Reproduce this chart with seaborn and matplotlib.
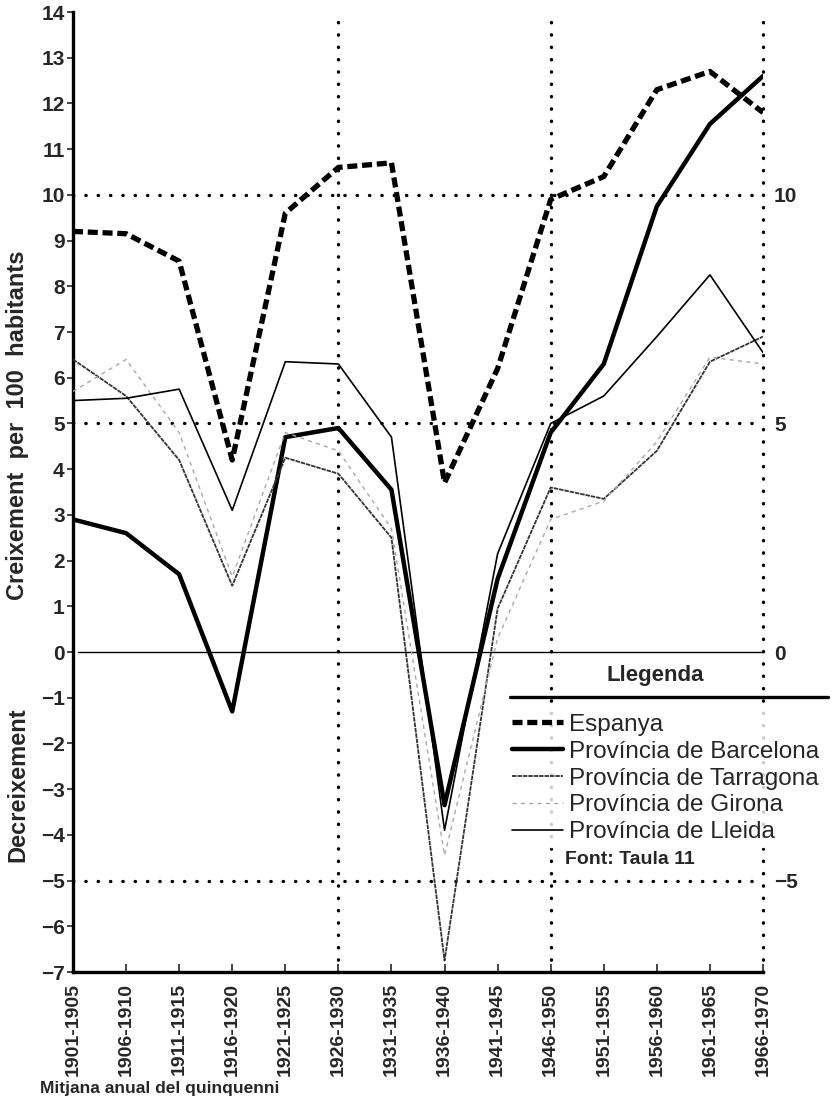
import pandas as pd
import matplotlib.pyplot as plt
import seaborn as sns
from matplotlib.lines import Line2D

# Periods (x axis)
periods = ["1901-1905", "1906-1910", "1911-1915", "1916-1920", "1921-1925",
           "1926-1930", "1931-1935", "1936-1940", "1941-1945", "1946-1950",
           "1951-1955", "1956-1960", "1961-1965", "1966-1970"]

# Growth per 100 inhabitants
espanya = [9.2, 9.15, 8.55, 4.2, 9.6, 10.6, 10.7, 3.7, 6.2, 9.9, 10.4, 12.3, 12.7, 11.8]
barcelona = [2.9, 2.6, 1.7, -1.3, 4.7, 4.9, 3.55, -3.35, 1.6, 4.8, 6.3, 9.75, 11.55, 12.6]
tarragona = [6.4, 5.6, 4.2, 1.45, 4.25, 3.9, 2.5, -6.75, 0.95, 3.6, 3.35, 4.4, 6.35, 6.9]
girona = [5.7, 6.4, 4.8, 1.65, 4.8, 4.4, 2.7, -4.45, 0.3, 2.9, 3.3, 4.6, 6.45, 6.3]
lleida = [5.5, 5.55, 5.75, 3.1, 6.35, 6.3, 4.7, -3.9, 2.15, 5.0, 5.6, 6.9, 8.25, 6.55]

series = {
    "Espanya": espanya,
    "Província de Barcelona": barcelona,
    "Província de Tarragona": tarragona,
    "Província de Girona": girona,
    "Província de Lleida": lleida,
}

rows = []
for name, vals in series.items():
    for i, v in enumerate(vals):
        rows.append({"serie": name, "pos": i, "valor": v})
df = pd.DataFrame(rows)

styles = {
    "Espanya": dict(color="black", lw=3.8, dashes=(1.9, 0.9)),
    "Província de Barcelona": dict(color="black", lw=3.2, dashes=()),
    "Província de Tarragona": dict(color="#333333", lw=1.3, dashes=(2.5, 0.5)),
    "Província de Girona": dict(color="#a8a8a8", lw=1.0, dashes=(3, 3)),
    "Província de Lleida": dict(color="black", lw=1.2, dashes=()),
}

sns.set_theme(style="white")
plt.rcParams["font.family"] = ["Liberation Sans", "DejaVu Sans"]

fig = plt.figure(figsize=(8.35, 11.01), dpi=100)
ax = fig.add_axes([73 / 835, 1 - 972 / 1101, 690 / 835, 960 / 1101])

# dotted reference lines
dot = dict(color="black", lw=2.4, linestyle=(0, (0.1, 3.6)), dash_capstyle="round",
           zorder=1, clip_on=False)
for yv in [10, 5, -5]:
    ax.plot([0, 13], [yv, yv], **dot)
for xv in [5, 9, 13]:
    ax.plot([xv, xv], [-7, 13.8], **dot)
ax.plot([0.1, 13], [0, 0], color="black", lw=1.0, zorder=1)

handles = []
for name in series:
    st = styles[name]
    sub = df[df["serie"] == name]
    sns.lineplot(data=sub, x="pos", y="valor", ax=ax, color=st["color"],
                 linewidth=st["lw"], zorder=3, legend=False)
    line = ax.get_lines()[-1]
    if st["dashes"]:
        line.set_dashes(st["dashes"])
    handles.append(Line2D([0], [0], color=st["color"], lw=st["lw"],
                          dashes=st["dashes"] if st["dashes"] else (None, None)))

ax.set_xlim(0, 13)
ax.set_ylim(-7, 14)
ax.set_xlabel("")
ax.set_ylabel("")
ax.set_xticks(range(len(periods)))
ax.set_xticklabels(periods, rotation=90, fontsize=14, fontweight="bold")
ax.set_yticks(range(-7, 15))
ax.set_yticklabels([str(v).replace("-", "\u2212") for v in range(-7, 15)],
                   fontsize=15, fontweight="bold")
ax.tick_params(axis="x", direction="in", length=6, width=1.2, pad=8, bottom=True)
ax.tick_params(axis="y", direction="out", length=4, width=1.2, pad=2, left=True)
for s in ["top", "right"]:
    ax.spines[s].set_visible(False)
for s in ["left", "bottom"]:
    ax.spines[s].set_linewidth(2.4)
    ax.spines[s].set_color("black")

ax2 = ax.twinx()
ax2.set_ylim(-7, 14)
ax2.set_yticks([-5, 0, 5, 10])
ax2.set_yticklabels(["\u22125", "0", "5", "10"], fontsize=15, fontweight="bold")
ax2.tick_params(axis="y", length=0, pad=8)
for s in ax2.spines.values():
    s.set_visible(False)

fig.text(18 / 835, 1 - 425 / 1101, "Creixement  per  100  habitants", rotation=90,
         ha="center", va="center", fontsize=17, fontweight="bold")
fig.text(18 / 835, 1 - 785 / 1101, "Decreixement", rotation=90,
         ha="center", va="center", fontsize=17, fontweight="bold")
fig.text(40 / 835, 1 - 1088 / 1101, "Mitjana anual del quinquenni", ha="left",
         va="center", fontsize=12.5, fontweight="bold")

# legend
leg = fig.legend(handles, list(series.keys()), loc="upper left",
                 bbox_to_anchor=(496 / 835, 1 - 698 / 1101), fontsize=17.5,
                 handlelength=2.1, handletextpad=0.25, labelspacing=0.2,
                 borderpad=0.15, frameon=True, fancybox=False)
leg.get_frame().set_facecolor("white")
leg.get_frame().set_edgecolor("white")
leg.set_zorder(5)
fig.text(655 / 835, 1 - 676 / 1101, "Llegenda", ha="center", va="center",
         fontsize=16, fontweight="bold")
fig.add_artist(Line2D([510 / 835, 828 / 835], [1 - 697 / 1101, 1 - 697 / 1101],
                      color="black", lw=2.4))
fig.text(565 / 835, 1 - 860 / 1101, "Font: Taula 11", ha="left", va="center",
         fontsize=14, fontweight="bold")

fig.savefig("out.png", dpi=100)
